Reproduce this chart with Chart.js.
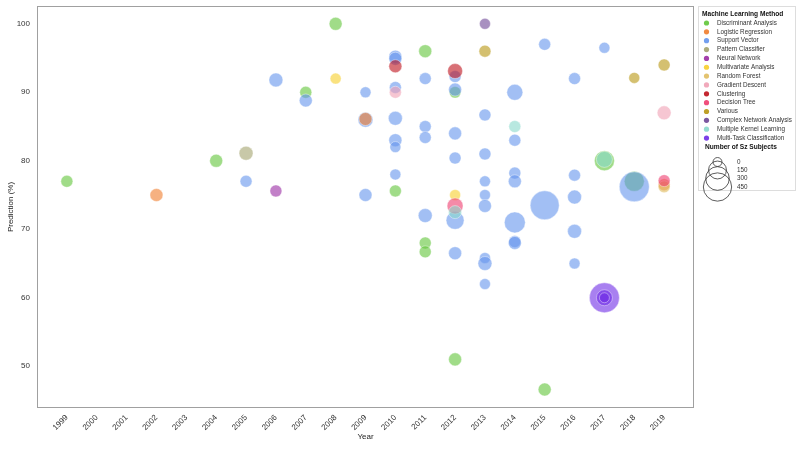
<!DOCTYPE html>
<html>
<head>
<meta charset="utf-8">
<title>Machine Learning Method - Prediction</title>
<script src="https://cdn.jsdelivr.net/npm/chart.js"></script>
<style>
    body { margin: 0; background: #fff; }
    #grafico { display: block; }
</style>
</head>
<body>
<canvas id="grafico" width="799" height="450"></canvas>
<script>
// [year, prediction %, number of Sz subjects]
const discriminantAnalysis = [[1999, 77.0, 40], [2004, 80.0, 56], [2007, 90.0, 40], [2008, 100.0, 56], [2010, 75.6, 40],
    [2011, 96.0, 56], [2011, 68.0, 40], [2011, 66.7, 40], [2012, 90.0, 35], [2012, 51.0, 56], [2015, 46.6, 56],
    [2017, 80.0, 200], [2018, 77.0, 200]];
const logisticRegression = [[2002, 75.0, 56], [2009, 86.1, 56], [2019, 76.5, 40]];
const supportVector = [[2005, 77.0, 40], [2006, 91.8, 72], [2007, 88.8, 56],
    [2009, 90.0, 26], [2009, 86.0, 90], [2009, 75.0, 56],
    [2010, 95.2, 56], [2010, 94.9, 56], [2010, 90.7, 40], [2010, 86.2, 72], [2010, 83.0, 56], [2010, 82.0, 26], [2010, 78.0, 26],
    [2011, 92.0, 40], [2011, 85.0, 40], [2011, 83.4, 40], [2011, 72.0, 72],
    [2012, 92.3, 40], [2012, 90.4, 56], [2012, 84.0, 56], [2012, 80.4, 40], [2012, 71.3, 152], [2012, 66.5, 56],
    [2013, 86.7, 40], [2013, 81.0, 40], [2013, 77.0, 26], [2013, 75.0, 26], [2013, 73.4, 56], [2013, 65.8, 26], [2013, 65.0, 72], [2013, 62.0, 26],
    [2014, 90.0, 110], [2014, 83.0, 40], [2014, 78.2, 40], [2014, 77.0, 56], [2014, 71.0, 225], [2014, 68.2, 40], [2014, 68.0, 56],
    [2015, 97.0, 40], [2015, 73.5, 475],
    [2016, 92.0, 40], [2016, 77.9, 40], [2016, 74.7, 72], [2016, 69.7, 72], [2016, 65.0, 26],
    [2017, 96.5, 26], [2018, 76.2, 512]];
const patternClassifier = [[2005, 81.1, 72]];
const neuralNetwork = [[2006, 75.6, 40]];
const multivariateAnalysis = [[2008, 92.0, 26], [2012, 75.0, 26]];
const randomForest = [[2019, 76.2, 40]];
const gradientDescent = [[2010, 90.0, 40], [2019, 87.0, 72]];
const clustering = [[2010, 93.8, 56], [2012, 93.1, 90]];
const decisionTree = [[2012, 73.4, 110], [2019, 77.1, 40]];
const various = [[2013, 96.0, 40], [2018, 92.1, 26], [2019, 94.0, 40]];
const complexNetwork = [[2013, 100.0, 26]];
const multipleKernel = [[2012, 72.5, 56], [2014, 85.0, 40], [2017, 80.2, 110]];
const multiTask = [[2017, 60.0, 512], [2017, 60.0, 110], [2017, 60.0, 12]];

const metodos = ['Discriminant Analysis', 'Logistic Regression', 'Support Vector', 'Pattern Classifier', 'Neural Network',
    'Multivariate Analysis', 'Random Forest', 'Gradient Descent', 'Clustering', 'Decision Tree', 'Various',
    'Complex Network Analysis', 'Multiple Kernel Learning', 'Multi-Task Classification'];
const series = [discriminantAnalysis, logisticRegression, supportVector, patternClassifier, neuralNetwork,
    multivariateAnalysis, randomForest, gradientDescent, clustering, decisionTree, various,
    complexNetwork, multipleKernel, multiTask];
const colores = ['97,197,57', '240,125,45', '100,149,237', '163,163,110', '154,43,163',
    '247,206,42', '224,189,96', '240,160,180', '190,17,27', '238,60,110', '183,150,17',
    '110,70,150', '137,217,203', '110,43,230'];

const years = [1999, 2000, 2001, 2002, 2003, 2004, 2005, 2006, 2007, 2008, 2009, 2010,
    2011, 2012, 2013, 2014, 2015, 2016, 2017, 2018, 2019];
const predTicks = [50, 60, 70, 80, 90, 100];
const sizeLegend = [0, 150, 300, 450];

function radio(n) {
    return Math.sqrt(20 + 0.4 * n);
}

var fuente = "'Liberation Sans', Arial, sans-serif";

var leyenda = {
    id: 'leyenda',
    beforeDatasetsDraw: function (chart) {
        var ctx = chart.ctx;
        var a = chart.chartArea;
        ctx.save();
        ctx.strokeStyle = '#a0a0a0';
        ctx.lineWidth = 1;
        ctx.strokeRect(Math.round(a.left) + 0.5, Math.round(a.top) + 0.5,
            Math.round(a.right - a.left) - 1, Math.round(a.bottom - a.top) - 1);
        ctx.restore();
    },
    afterDraw: function (chart) {
        var ctx = chart.ctx;
        ctx.save();
        ctx.strokeStyle = '#dddddd';
        ctx.lineWidth = 1;
        ctx.strokeRect(698.5, 6.5, 97, 184);

        ctx.textBaseline = 'middle';
        ctx.fillStyle = '#111';
        ctx.font = 'bold 6.6px ' + fuente;
        ctx.fillText('Machine Learning Method', 702, 14);

        ctx.font = '6.3px ' + fuente;
        for (var i = 0; i < metodos.length; i++) {
            var y = 23 + i * 8.85;
            ctx.beginPath();
            ctx.arc(706.5, y, 2.6, 0, Math.PI * 2);
            ctx.fillStyle = 'rgba(' + colores[i] + ',0.9)';
            ctx.fill();
            ctx.fillStyle = '#333';
            ctx.fillText(metodos[i], 717, y);
        }

        ctx.fillStyle = '#111';
        ctx.font = 'bold 6.6px ' + fuente;
        ctx.fillText('Number of Sz Subjects', 705, 147);

        ctx.font = '6.3px ' + fuente;
        var filas = [162, 170, 178.5, 187];
        for (var j = 0; j < sizeLegend.length; j++) {
            ctx.beginPath();
            ctx.arc(717.5, filas[j], radio(sizeLegend[j]), 0, Math.PI * 2);
            ctx.strokeStyle = '#333';
            ctx.lineWidth = 0.8;
            ctx.stroke();
            ctx.fillStyle = '#333';
            ctx.fillText(String(sizeLegend[j]), 737, filas[j]);
        }
        ctx.restore();
    }
};

window.onload = function () {
    var datasets = [];
    for (var i = 0; i < metodos.length; i++) {
        // green at the very bottom, then support vector, then the rest
        var orden = metodos.length - i;
        if (metodos[i] == 'Discriminant Analysis') orden = 101;
        if (metodos[i] == 'Support Vector') orden = 100;
        datasets.push({
            label: metodos[i],
            data: series[i].map(function (p) { return { x: p[0], y: p[1], r: radio(p[2]) }; }),
            backgroundColor: 'rgba(' + colores[i] + ',0.6)',
            borderColor: 'rgba(255,255,255,0.5)',
            borderWidth: 0.8,
            hoverRadius: 0,
            order: orden
        });
    }

    var config = {
        type: 'bubble',
        data: { datasets: datasets },
        options: {
            responsive: false,
            animation: false,
            devicePixelRatio: 1,
            layout: { autoPadding: false, padding: { left: 0, right: 105, top: 6, bottom: 0 } },
            plugins: {
                legend: { display: false },
                tooltip: { enabled: false }
            },
            scales: {
                x: {
                    type: 'linear',
                    min: 1998,
                    max: 2020,
                    afterBuildTicks: function (s) { s.ticks = years.map(function (v) { return { value: v }; }); },
                    afterFit: function (s) {
                        s.height = 42;
                        s.paddingLeft = 0;
                        s.paddingRight = 0;
                    },
                    grid: { display: false, drawTicks: false },
                    border: { display: false },
                    ticks: {
                        autoSkip: false,
                        minRotation: 45,
                        maxRotation: 45,
                        padding: 5,
                        color: '#333',
                        font: { family: fuente, size: 8 },
                        callback: function (v) { return String(v); }
                    },
                    title: {
                        display: true,
                        text: 'Year',
                        color: '#222',
                        padding: { top: 0, bottom: 8 },
                        font: { family: fuente, size: 8 }
                    }
                },
                y: {
                    min: 43.9,
                    max: 102.6,
                    afterBuildTicks: function (s) { s.ticks = predTicks.map(function (v) { return { value: v }; }); },
                    afterFit: function (s) {
                        s.width = 37;
                        s.paddingTop = 0;
                        s.paddingBottom = 0;
                    },
                    grid: { display: false, drawTicks: false },
                    border: { display: false },
                    ticks: {
                        padding: 7,
                        color: '#333',
                        font: { family: fuente, size: 8 }
                    },
                    title: {
                        display: true,
                        text: 'Prediction (%)',
                        color: '#222',
                        padding: { top: 6, bottom: 0 },
                        font: { family: fuente, size: 8 }
                    }
                }
            }
        },
        plugins: [leyenda]
    };

    var miGrafico = new Chart(document.getElementById('grafico'), config);
};
</script>
</body>
</html>
